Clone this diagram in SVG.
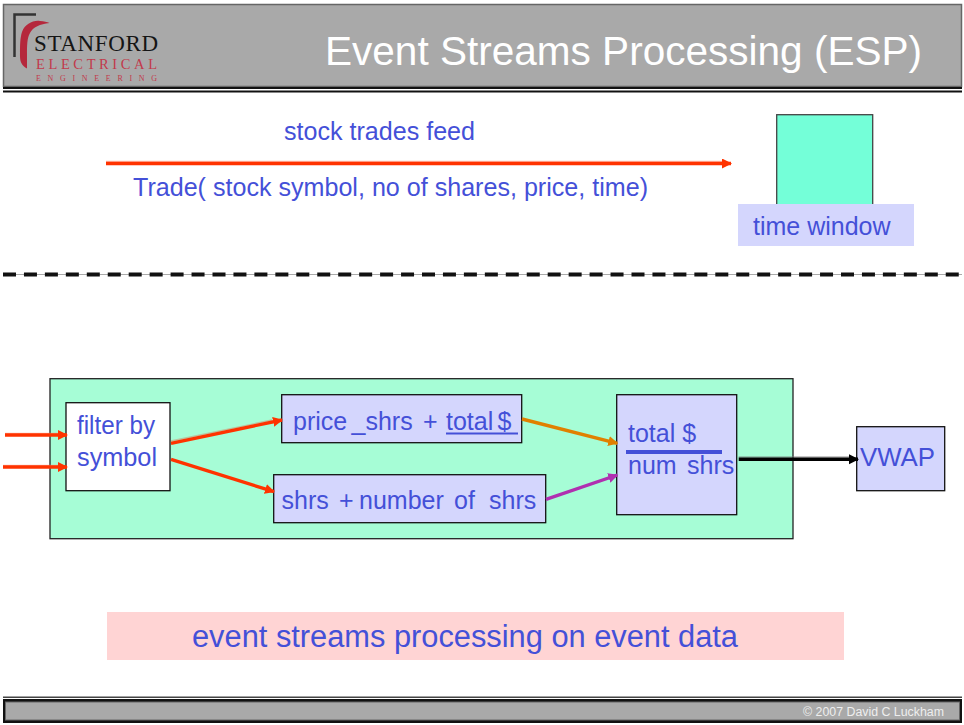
<svg xmlns="http://www.w3.org/2000/svg" width="964" height="725" viewBox="0 0 964 725">
<defs>
<style>
text{font-family:"Liberation Sans",Arial,sans-serif;fill:#4450d8}
.t{font-size:25px}
.box{fill:#d4d6fd;stroke:#111;stroke-width:1.3}
.cn{fill:none;stroke-width:3.4}
.hl{fill:none;stroke-width:1.3;opacity:.55}
</style>
<marker id="ar" markerUnits="userSpaceOnUse" markerWidth="12" markerHeight="12" refX="9" refY="5" orient="auto"><path d="M0 0L10 5L0 10Z" fill="#ff3300"/></marker>
<marker id="ao" markerUnits="userSpaceOnUse" markerWidth="12" markerHeight="12" refX="9" refY="5" orient="auto"><path d="M0 0L10 5L0 10Z" fill="#e08000"/></marker>
<marker id="ap" markerUnits="userSpaceOnUse" markerWidth="12" markerHeight="12" refX="9" refY="5" orient="auto"><path d="M0 0L10 5L0 10Z" fill="#b030b0"/></marker>
<marker id="ab" markerUnits="userSpaceOnUse" markerWidth="12" markerHeight="12" refX="9" refY="5" orient="auto"><path d="M0 0L10 5L0 10Z" fill="#000"/></marker>
</defs>
<rect width="964" height="725" fill="#fff"/>
<g id="header">
<rect x="3.500" y="4.500" width="958" height="82" fill="#a9a9a9" stroke="#666" stroke-width="1.500"/>
<rect x="3" y="87" width="959" height="2" fill="#111"/>
<rect x="3" y="90.500" width="959" height="2" fill="#111"/>
<path d="M14.500 57V14.500H36" fill="none" stroke="#333" stroke-width="2.500"/>
<path d="M27 68.500C22 66 20 62 20 56C20 46 20 38 22 32C25 24 33 20 40 21C44 21 47 22 49.500 23C40 24 33 27 30 33C27 38 27 46 27 54Z" fill="#b5283c"/>
<text x="34" y="51" font-size="23" textLength="124" lengthAdjust="spacing" style="fill:#151515;font-family:'Liberation Serif',serif">STANFORD</text>
<text x="36" y="69" font-size="14.500" textLength="121" lengthAdjust="spacing" style="fill:#c23a4c;font-family:'Liberation Serif',serif">ELECTRICAL</text>
<text x="36" y="80.500" font-size="8" textLength="121" lengthAdjust="spacing" style="fill:#c23a4c;font-family:'Liberation Serif',serif">ENGINEERING</text>
<text x="325" y="65" font-size="40.600" textLength="597" lengthAdjust="spacingAndGlyphs" style="fill:#fff">Event Streams Processing (ESP)</text>
</g>
<g id="separator">
<line x1="3" y1="274.500" x2="962" y2="274.500" stroke="#aaa" stroke-width="1.200"/>
<line x1="3" y1="274.500" x2="962" y2="274.500" stroke="#111" stroke-width="4.200" stroke-dasharray="13 7.950"/>
</g>
<g id="window">
<rect x="776.700" y="114.700" width="96" height="92" fill="#74ffd8" stroke="#444" stroke-width="1.300"/>
</g>
<g id="time-window">
<rect x="738" y="204" width="176" height="42" fill="#d4d6fd"/>
<text class="t" x="753" y="235">time window</text>
</g>
<g id="feed-labels">
<text class="t" x="284" y="140" textLength="191" lengthAdjust="spacingAndGlyphs">stock trades feed</text>
<text class="t" x="133" y="196" textLength="515" lengthAdjust="spacingAndGlyphs">Trade( stock symbol, no of shares, price, time)</text>
</g>
<g id="panel">
<rect x="50" y="378.700" width="743" height="160" fill="#a6fdd6" stroke="#222" stroke-width="1.300"/>
</g>
<g id="filter">
<rect x="66" y="402.700" width="104" height="88" fill="#fff" stroke="#111" stroke-width="1.300"/>
<text class="t" x="77" y="434" textLength="78" lengthAdjust="spacingAndGlyphs">filter by</text>
<text class="t" x="77" y="466" textLength="80" lengthAdjust="spacingAndGlyphs">symbol</text>
</g>
<g id="price">
<rect class="box" x="281.700" y="394.700" width="240" height="48"/>
<text class="t" y="430"><tspan x="293">price</tspan><tspan x="351.500">_shrs</tspan><tspan x="423">+</tspan><tspan x="446">total</tspan><tspan x="497.500">$</tspan></text>
<rect x="446" y="432.500" width="72" height="2" fill="#4450d8"/>
</g>
<g id="shares">
<rect class="box" x="273.700" y="474.700" width="272" height="48"/>
<text class="t" y="509"><tspan x="281.500">shrs</tspan><tspan x="339">+</tspan><tspan x="359">number</tspan><tspan x="454">of</tspan><tspan x="489">shrs</tspan></text>
</g>
<g id="ratio">
<rect class="box" x="616.700" y="394.700" width="120" height="120"/>
<text class="t" x="628" y="442">total $</text>
<rect x="626" y="450" width="96" height="4" fill="#4450d8"/>
<text class="t" y="474"><tspan x="628">num</tspan><tspan x="687">shrs</tspan></text>
</g>
<g id="vwap">
<rect class="box" x="856.700" y="426.700" width="88" height="64"/>
<text x="860" y="466" font-size="26" textLength="75" lengthAdjust="spacingAndGlyphs">VWAP</text>
</g>
<g id="banner">
<rect x="107" y="612" width="737" height="48" fill="#ffd4d4"/>
<text x="192" y="647" font-size="30.800" textLength="546" lengthAdjust="spacingAndGlyphs">event streams processing on event data</text>
</g>
<g id="connectors">
<line x1="106" y1="161.500" x2="722" y2="161.500" class="hl" stroke="#ff8a70"/>
<line x1="106" y1="163.500" x2="731" y2="163.500" class="cn" stroke="#ff3300" marker-end="url(#ar)"/>
<line x1="5" y1="433.500" x2="60" y2="433.500" class="hl" stroke="#ff8a70"/>
<line x1="5" y1="435" x2="67" y2="435" class="cn" stroke="#ff3300" marker-end="url(#ar)"/>
<line x1="3" y1="465.500" x2="60" y2="465.500" class="hl" stroke="#ff8a70"/>
<line x1="3" y1="467" x2="67" y2="467" class="cn" stroke="#ff3300" marker-end="url(#ar)"/>
<line x1="171" y1="441" x2="272" y2="420" class="hl" stroke="#d09070"/>
<line x1="171" y1="443.300" x2="282" y2="420" class="cn" stroke="#ff3300" marker-end="url(#ar)"/>
<line x1="171" y1="459.300" x2="274" y2="491.700" class="cn" stroke="#ff3300" marker-end="url(#ar)"/>
<line x1="522" y1="419" x2="617.300" y2="443.300" class="cn" stroke="#e08000" marker-end="url(#ao)"/>
<line x1="546" y1="499.300" x2="617.300" y2="475" class="cn" stroke="#b030b0" marker-end="url(#ap)"/>
<line x1="738.700" y1="457" x2="850" y2="457" class="hl" stroke="#777"/>
<line x1="738.700" y1="459.300" x2="858" y2="459.300" class="cn" stroke="#000" marker-end="url(#ab)"/>
</g>
<g id="footer">
<rect x="3" y="696.500" width="959" height="1.500" fill="#444"/>
<rect x="3" y="699" width="959" height="24" fill="#111"/>
<rect x="5.500" y="702" width="954" height="18" fill="#a9a9a9" stroke="#666" stroke-width="1"/>
<text x="803" y="716" font-size="12.300" textLength="141" lengthAdjust="spacingAndGlyphs" style="fill:#eee">© 2007 David C Luckham</text>
</g>
</svg>
